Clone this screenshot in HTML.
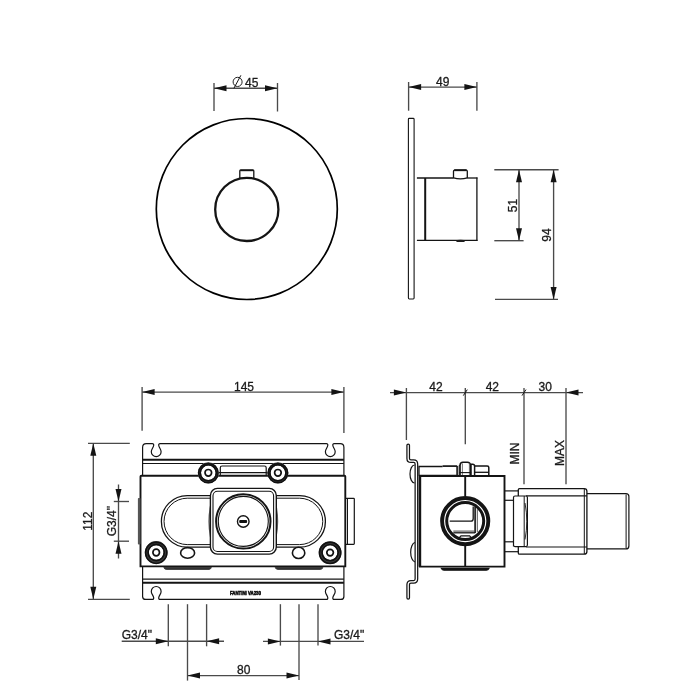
<!DOCTYPE html>
<html><head><meta charset="utf-8"><style>
html,body{margin:0;padding:0;background:#fff;width:700px;height:700px;overflow:hidden}
svg{display:block;will-change:transform}
text{font-family:"Liberation Sans",sans-serif;fill:#1a1a1a;stroke:#1a1a1a;stroke-width:0.3px}
</style></head><body>
<svg width="700" height="700" viewBox="0 0 700 700">
<rect width="700" height="700" fill="#fff"/>
<circle cx="246.8" cy="209.0" r="90.5" stroke="#000" stroke-width="1.7" fill="none"/>
<circle cx="246.8" cy="209.4" r="31.6" stroke="#141414" stroke-width="2.3" fill="none"/>
<path d="M239.8,178.3 V171 Q239.8,170.2 240.6,170.2 H253 Q253.8,170.2 253.8,171 V178.3" stroke="#141414" stroke-width="1.3" fill="none" />
<line x1="240.3" y1="170.3" x2="253.3" y2="170.3" stroke="#141414" stroke-width="1.8" stroke-linecap="butt"/>
<line x1="214.0" y1="83" x2="214.0" y2="111" stroke="#4a4a4a" stroke-width="1.35" stroke-linecap="butt"/>
<line x1="277.5" y1="83" x2="277.5" y2="111.5" stroke="#4a4a4a" stroke-width="1.35" stroke-linecap="butt"/>
<line x1="214.0" y1="88.2" x2="277.5" y2="88.2" stroke="#4a4a4a" stroke-width="1.35" stroke-linecap="butt"/>
<polygon points="214.0,88.2 226.5,85.2 226.5,91.2" fill="#141414"/>
<polygon points="277.5,88.2 265.0,85.2 265.0,91.2" fill="#141414"/>
<ellipse cx="237.6" cy="81.9" rx="4.5" ry="4.6" stroke="#222" stroke-width="1" fill="none"/>
<line x1="233.9" y1="88.3" x2="240.9" y2="75.3" stroke="#141414" stroke-width="1" stroke-linecap="butt"/>
<text x="245" y="86.6" font-size="12" text-anchor="start" >45</text>
<path d="M408.4,119.3 Q408.4,118.4 409.3,118.4 H413.2 Q414.1,118.4 414.1,119.3 V298.1 Q414.1,299 413.2,299 H409.3 Q408.4,299 408.4,298.1 Z" stroke="#141414" stroke-width="1.1" fill="none" />
<line x1="408.6" y1="82" x2="408.6" y2="110.7" stroke="#4a4a4a" stroke-width="1.35" stroke-linecap="butt"/>
<line x1="476.9" y1="82" x2="476.9" y2="110.7" stroke="#4a4a4a" stroke-width="1.35" stroke-linecap="butt"/>
<line x1="408.6" y1="87.1" x2="476.9" y2="87.1" stroke="#4a4a4a" stroke-width="1.35" stroke-linecap="butt"/>
<polygon points="408.6,87.1 421.1,84.1 421.1,90.1" fill="#141414"/>
<polygon points="476.9,87.1 464.4,84.1 464.4,90.1" fill="#141414"/>
<text x="436" y="85.7" font-size="12" text-anchor="start" >49</text>
<line x1="416.9" y1="178" x2="453.5" y2="178" stroke="#141414" stroke-width="1.3" stroke-linecap="butt"/>
<line x1="467.3" y1="178" x2="477.5" y2="178" stroke="#141414" stroke-width="1.3" stroke-linecap="butt"/>
<line x1="416.9" y1="240.4" x2="477.5" y2="240.4" stroke="#141414" stroke-width="1.3" stroke-linecap="butt"/>
<line x1="425.2" y1="178" x2="425.2" y2="240.4" stroke="#141414" stroke-width="2.0" stroke-linecap="butt"/>
<line x1="476.9" y1="177.4" x2="476.9" y2="241" stroke="#141414" stroke-width="1.3" stroke-linecap="butt"/>
<path d="M453.5,178.2 V171.3 Q453.5,170.1 454.7,170.1 H466.1 Q467.3,170.1 467.3,171.3 V178.2" stroke="#141414" stroke-width="1.3" fill="none" />
<line x1="454.2" y1="170.2" x2="466.6" y2="170.2" stroke="#141414" stroke-width="1.9" stroke-linecap="butt"/>
<path d="M453.5,177.8 Q460.4,179.9 467.3,177.8" stroke="#141414" stroke-width="1.3" fill="none" />
<ellipse cx="460.5" cy="240.9" rx="4.5" ry="1.2" fill="#1e1e1e"/>
<line x1="494.3" y1="169.7" x2="558.6" y2="169.7" stroke="#4a4a4a" stroke-width="1.35" stroke-linecap="butt"/>
<line x1="494.3" y1="240.7" x2="523.6" y2="240.7" stroke="#4a4a4a" stroke-width="1.35" stroke-linecap="butt"/>
<line x1="495" y1="299.4" x2="558" y2="299.4" stroke="#4a4a4a" stroke-width="1.35" stroke-linecap="butt"/>
<line x1="519" y1="169.7" x2="519" y2="240.7" stroke="#4a4a4a" stroke-width="1.35" stroke-linecap="butt"/>
<polygon points="519,169.7 516.0,182.2 522.0,182.2" fill="#141414"/>
<polygon points="519,240.7 516.0,228.2 522.0,228.2" fill="#141414"/>
<line x1="553.6" y1="169.7" x2="553.6" y2="299.4" stroke="#4a4a4a" stroke-width="1.35" stroke-linecap="butt"/>
<polygon points="553.6,169.7 550.6,182.2 556.6,182.2" fill="#141414"/>
<polygon points="553.6,299.4 550.6,286.9 556.6,286.9" fill="#141414"/>
<text x="516.9" y="205.6" font-size="12" text-anchor="middle" transform="rotate(-90 516.9 205.6)" >51</text>
<text x="551.4" y="235.0" font-size="12" text-anchor="middle" transform="rotate(-90 551.4 235.0)" >94</text>
<line x1="142.1" y1="387.1" x2="142.1" y2="430.7" stroke="#4a4a4a" stroke-width="1.35" stroke-linecap="butt"/>
<line x1="343.9" y1="387.1" x2="343.9" y2="432.9" stroke="#4a4a4a" stroke-width="1.35" stroke-linecap="butt"/>
<line x1="142.1" y1="392.1" x2="343.9" y2="392.1" stroke="#4a4a4a" stroke-width="1.35" stroke-linecap="butt"/>
<polygon points="142.1,392.1 154.6,389.1 154.6,395.1" fill="#141414"/>
<polygon points="343.9,392.1 331.4,389.1 331.4,395.1" fill="#141414"/>
<text x="234" y="390.5" font-size="12" text-anchor="start" >145</text>
<line x1="88" y1="443.3" x2="129.8" y2="443.3" stroke="#4a4a4a" stroke-width="1.35" stroke-linecap="butt"/>
<line x1="88" y1="599.3" x2="129.8" y2="599.3" stroke="#4a4a4a" stroke-width="1.35" stroke-linecap="butt"/>
<line x1="93.3" y1="443.3" x2="93.3" y2="599.3" stroke="#4a4a4a" stroke-width="1.35" stroke-linecap="butt"/>
<polygon points="93.3,443.3 90.3,455.8 96.3,455.8" fill="#141414"/>
<polygon points="93.3,599.3 90.3,586.8 96.3,586.8" fill="#141414"/>
<text x="91.8" y="521.2" font-size="12" text-anchor="middle" transform="rotate(-90 91.8 521.2)" >112</text>
<line x1="113.8" y1="501.5" x2="129" y2="501.5" stroke="#4a4a4a" stroke-width="1.35" stroke-linecap="butt"/>
<line x1="113.8" y1="541.2" x2="129" y2="541.2" stroke="#4a4a4a" stroke-width="1.35" stroke-linecap="butt"/>
<line x1="118.5" y1="484.5" x2="118.5" y2="558.5" stroke="#4a4a4a" stroke-width="1.35" stroke-linecap="butt"/>
<polygon points="118.5,501.5 115.5,489.0 121.5,489.0" fill="#141414"/>
<polygon points="118.5,541.2 115.5,553.7 121.5,553.7" fill="#141414"/>
<text x="116.5" y="521.2" font-size="12" text-anchor="middle" transform="rotate(-90 116.5 521.2)" >G3/4"</text>
<path d="M142.6,475.7 V447.4 Q142.6,443.7 146.29999999999998,443.7 L152.39999999999998,443.7 Q153.79999999999998,443.7 153.7,445.3 C153.39999999999998,447.7 151.29999999999998,449.2 151.29999999999998,451.7 A4.9,4.9 0 0 0 161.1,451.7 C161.1,449.2 159.0,447.7 158.7,445.3 Q158.6,443.7 160.0,443.7 L326.5,443.7 Q327.90000000000003,443.7 327.8,445.3 C327.5,447.7 325.40000000000003,449.2 325.40000000000003,451.7 A4.9,4.9 0 0 0 335.2,451.7 C335.2,449.2 333.1,447.7 332.8,445.3 Q332.7,443.7 334.1,443.7 L340.2,443.7 Q343.9,443.7 343.9,447.4 V475.7" stroke="#141414" stroke-width="1.2" fill="none" />
<line x1="142.6" y1="459.7" x2="343.9" y2="459.7" stroke="#141414" stroke-width="1.9" stroke-linecap="butt"/>
<line x1="142.6" y1="463.5" x2="343.9" y2="463.5" stroke="#141414" stroke-width="1.2" stroke-linecap="butt"/>
<path d="M343.9,566.4 V596.4 Q343.9,599.4 340.9,599.4 L334.1,599.4 Q332.7,599.4 332.8,597.8 C333.1,595.4 335.2,593.9 335.2,591.4 A4.9,4.9 0 0 0 325.40000000000003,591.4 C325.40000000000003,593.9 327.5,595.4 327.8,597.8 Q327.90000000000003,599.4 326.5,599.4 L160.0,599.4 Q158.6,599.4 158.7,597.8 C159.0,595.4 161.1,593.9 161.1,591.4 A4.9,4.9 0 0 0 151.29999999999998,591.4 C151.29999999999998,593.9 153.39999999999998,595.4 153.7,597.8 Q153.79999999999998,599.4 152.39999999999998,599.4 L145.6,599.4 Q142.6,599.4 142.6,596.4 V566.4" stroke="#141414" stroke-width="1.2" fill="none" />
<line x1="142.6" y1="579.1" x2="343.9" y2="579.1" stroke="#141414" stroke-width="1.1" stroke-linecap="butt"/>
<line x1="142.6" y1="582.8" x2="343.9" y2="582.8" stroke="#141414" stroke-width="1.9" stroke-linecap="butt"/>
<path d="M163.8,567.6 Q164.6,569.4 166.2,569.4 H209 Q210.6,569.4 211.4,567.6 Z" stroke="#333" stroke-width="0.9" fill="#333" />
<path d="M275.2,567.6 Q276,569.4 277.6,569.4 H320.5 Q322.1,569.4 322.9,567.6 Z" stroke="#333" stroke-width="0.9" fill="#333" />
<path d="M140.5,566.4 V476.5 Q140.5,475.7 141.3,475.7 H344.5 Q345.3,475.7 345.3,476.5 V566.4 Z" stroke="#141414" stroke-width="1.9" fill="none" />
<rect x="137.9" y="498" width="2.6" height="46.5" rx="0.8" fill="#555"/>
<path d="M345.3,498.3 H353.6 Q354.3,498.3 354.3,499 V543.6 Q354.3,544.3 353.6,544.3 H345.3" stroke="#141414" stroke-width="1.2" fill="none" />
<line x1="347.5" y1="498.3" x2="347.5" y2="544.3" stroke="#141414" stroke-width="1.0" stroke-linecap="butt"/>
<path d="M220.3,475.4 V467.8 Q220.3,466 222.1,466 H264.4 Q266.2,466 266.2,467.8 V475.4" stroke="#141414" stroke-width="1.2" fill="none" />
<line x1="218" y1="472.6" x2="268.4" y2="472.6" stroke="#141414" stroke-width="1.3" stroke-linecap="butt"/>
<circle cx="208.3" cy="472.8" r="10.5" fill="#fff"/>
<circle cx="208.3" cy="472.8" r="8.9" stroke="#3c3c3c" stroke-width="3.2" fill="none"/>
<circle cx="208.3" cy="472.8" r="8.1" stroke="#111" stroke-width="1.6" fill="none"/>
<circle cx="208.3" cy="473.1" r="9.7" stroke="#111" stroke-width="1.5" fill="none"/>
<circle cx="208.3" cy="472.8" r="3.3" stroke="#111" stroke-width="1.7" fill="none"/>
<circle cx="277.9" cy="472.8" r="10.5" fill="#fff"/>
<circle cx="277.9" cy="472.8" r="8.9" stroke="#3c3c3c" stroke-width="3.2" fill="none"/>
<circle cx="277.9" cy="472.8" r="8.1" stroke="#111" stroke-width="1.6" fill="none"/>
<circle cx="277.9" cy="473.1" r="9.7" stroke="#111" stroke-width="1.5" fill="none"/>
<circle cx="277.9" cy="472.8" r="3.3" stroke="#111" stroke-width="1.7" fill="none"/>
<circle cx="156.2" cy="552.5" r="11.4" fill="#fff"/>
<circle cx="156.2" cy="552.5" r="9.35" stroke="#3c3c3c" stroke-width="4.1000000000000005" fill="none"/>
<circle cx="156.2" cy="552.5" r="8.1" stroke="#111" stroke-width="1.6" fill="none"/>
<circle cx="156.2" cy="552.8" r="10.6" stroke="#111" stroke-width="1.5" fill="none"/>
<circle cx="156.2" cy="552.5" r="3.3" stroke="#111" stroke-width="1.7" fill="none"/>
<circle cx="330.1" cy="552.6" r="11.4" fill="#fff"/>
<circle cx="330.1" cy="552.6" r="9.35" stroke="#3c3c3c" stroke-width="4.1000000000000005" fill="none"/>
<circle cx="330.1" cy="552.6" r="8.1" stroke="#111" stroke-width="1.6" fill="none"/>
<circle cx="330.1" cy="552.9" r="10.6" stroke="#111" stroke-width="1.5" fill="none"/>
<circle cx="330.1" cy="552.6" r="3.3" stroke="#111" stroke-width="1.7" fill="none"/>
<path d="M210.3,495.59999999999997 H187.2 A25.8,25.8 0 0 0 187.2,547.1999999999999 H210.3" stroke="#141414" stroke-width="1.3" fill="none" />
<path d="M210.3,498.2 H187.2 A23.2,23.2 0 0 0 187.2,544.5999999999999 H210.3" stroke="#141414" stroke-width="1.0" fill="none" />
<path d="M275.7,495.59999999999997 H299.6 A25.8,25.8 0 0 1 299.6,547.1999999999999 H275.7" stroke="#141414" stroke-width="1.3" fill="none" />
<path d="M275.7,498.2 H299.6 A23.2,23.2 0 0 1 299.6,544.5999999999999 H275.7" stroke="#141414" stroke-width="1.0" fill="none" />
<path d="M210.6,506 Q207.6,521.4 210.6,537" stroke="#555" stroke-width="1.4" fill="none" />
<path d="M276.0,506 Q279.0,521.4 276.0,537" stroke="#555" stroke-width="1.4" fill="none" />
<rect x="210.4" y="488.4" width="65.9" height="65.7" rx="7" fill="#fff" stroke="#141414" stroke-width="1.4"/>
<rect x="213.0" y="491.3" width="60.6" height="60.2" rx="4.5" fill="none" stroke="#141414" stroke-width="1.1"/>
<circle cx="243.3" cy="521.4" r="27.2" stroke="#141414" stroke-width="2.0" fill="none"/>
<circle cx="243.3" cy="521.4" r="25.0" stroke="#141414" stroke-width="1.1" fill="none"/>
<circle cx="243.25" cy="521.5" r="5.8" stroke="#141414" stroke-width="1.4" fill="none"/>
<rect x="239.2" y="519.9" width="7.9" height="3.0" rx="1" fill="#111"/>
<ellipse cx="187.6" cy="552.9" rx="7.0" ry="5.3" stroke="#141414" stroke-width="1.6" fill="#fff"/>
<ellipse cx="298.6" cy="552.9" rx="6.2" ry="5.6" stroke="#141414" stroke-width="1.6" fill="#fff"/>
<text x="245.4" y="594.6" font-size="4.8" text-anchor="middle" font-weight="bold" style="stroke:#111;stroke-width:0.55px" textLength="31" lengthAdjust="spacingAndGlyphs">FANTINI VA230</text>
<line x1="168.3" y1="604.2" x2="168.3" y2="646.3" stroke="#4a4a4a" stroke-width="1.35" stroke-linecap="butt"/>
<line x1="187.5" y1="604.2" x2="187.5" y2="680.6" stroke="#4a4a4a" stroke-width="1.35" stroke-linecap="butt"/>
<line x1="206.6" y1="604.2" x2="206.6" y2="646.3" stroke="#4a4a4a" stroke-width="1.35" stroke-linecap="butt"/>
<line x1="280.4" y1="604.2" x2="280.4" y2="645.6" stroke="#4a4a4a" stroke-width="1.35" stroke-linecap="butt"/>
<line x1="299" y1="604.2" x2="299" y2="680" stroke="#4a4a4a" stroke-width="1.35" stroke-linecap="butt"/>
<line x1="318" y1="604.2" x2="318" y2="645.6" stroke="#4a4a4a" stroke-width="1.35" stroke-linecap="butt"/>
<line x1="121.7" y1="641.2" x2="224" y2="641.2" stroke="#4a4a4a" stroke-width="1.35" stroke-linecap="butt"/>
<polygon points="168.3,641.2 155.8,638.2 155.8,644.2" fill="#141414"/>
<polygon points="206.6,641.2 219.1,638.2 219.1,644.2" fill="#141414"/>
<text x="121.7" y="639.1" font-size="12" text-anchor="start" >G3/4"</text>
<line x1="263" y1="641.4" x2="364" y2="641.4" stroke="#4a4a4a" stroke-width="1.35" stroke-linecap="butt"/>
<polygon points="280.4,641.4 267.9,638.4 267.9,644.4" fill="#141414"/>
<polygon points="318,641.4 330.5,638.4 330.5,644.4" fill="#141414"/>
<text x="334" y="639.4" font-size="12" text-anchor="start" >G3/4"</text>
<line x1="187.5" y1="675.6" x2="299" y2="675.6" stroke="#4a4a4a" stroke-width="1.35" stroke-linecap="butt"/>
<polygon points="187.5,675.6 200.0,672.6 200.0,678.6" fill="#141414"/>
<polygon points="299,675.6 286.5,672.6 286.5,678.6" fill="#141414"/>
<text x="237" y="674" font-size="12" text-anchor="start" >80</text>
<line x1="390" y1="392.6" x2="583" y2="392.6" stroke="#4a4a4a" stroke-width="1.35" stroke-linecap="butt"/>
<polygon points="406.4,392.6 393.9,389.6 393.9,395.6" fill="#141414"/>
<polygon points="566,392.6 578.5,389.6 578.5,395.6" fill="#141414"/>
<line x1="406.4" y1="388" x2="406.4" y2="440" stroke="#4a4a4a" stroke-width="1.35" stroke-linecap="butt"/>
<line x1="465.3" y1="388" x2="465.3" y2="444.3" stroke="#4a4a4a" stroke-width="1.35" stroke-linecap="butt"/>
<line x1="524" y1="388" x2="524" y2="484.3" stroke="#4a4a4a" stroke-width="1.35" stroke-linecap="butt"/>
<line x1="566" y1="388" x2="566" y2="484.3" stroke="#4a4a4a" stroke-width="1.35" stroke-linecap="butt"/>
<line x1="463.3" y1="395.6" x2="467.3" y2="389.6" stroke="#141414" stroke-width="1.0" stroke-linecap="butt"/>
<line x1="522" y1="395.6" x2="526" y2="389.6" stroke="#141414" stroke-width="1.0" stroke-linecap="butt"/>
<text x="429.3" y="391" font-size="12" text-anchor="start" >42</text>
<text x="485.7" y="391" font-size="12" text-anchor="start" >42</text>
<text x="538.6" y="391" font-size="12" text-anchor="start" >30</text>
<text x="518.9" y="453.6" font-size="12" text-anchor="middle" transform="rotate(-90 518.9 453.6)" >MIN</text>
<text x="564.3" y="452.9" font-size="12" text-anchor="middle" transform="rotate(-90 564.3 452.9)" >MAX</text>
<path d="M408.2,445.3 V458.5 Q408.2,461.2 411,461.2 H413.6 Q416.4,461.2 416.4,464 V579 Q416.4,581.8 413.6,581.8 H411 Q408.2,581.8 408.2,584.6 V597.8" stroke="#141414" stroke-width="3.8" fill="none" stroke-linecap="round" stroke-linejoin="round"/>
<path d="M408.2,445.3 V458.5 Q408.2,461.2 411,461.2 H413.6 Q416.4,461.2 416.4,464 V579 Q416.4,581.8 413.6,581.8 H411 Q408.2,581.8 408.2,584.6 V597.8" stroke="#fff" stroke-width="1.3" fill="none" stroke-linecap="round" stroke-linejoin="round"/>
<path d="M414.6,465 A4.6,9 0 0 0 414.6,483" stroke="#141414" stroke-width="1.2" fill="none" />
<path d="M415,542.5 A4.8,9.8 0 0 0 415,562" stroke="#141414" stroke-width="1.2" fill="none" />
<path d="M419,476 V466.5 H442.6" stroke="#141414" stroke-width="1.3" fill="none" />
<path d="M442.6,466.1 H457.2" stroke="#141414" stroke-width="1.7" fill="none" />
<line x1="457.1" y1="466" x2="457.1" y2="475.8" stroke="#141414" stroke-width="1.6" stroke-linecap="butt"/>
<line x1="419" y1="475.5" x2="457.2" y2="475.5" stroke="#141414" stroke-width="1.3" stroke-linecap="butt"/>
<path d="M459.2,475.8 V465.4" stroke="#141414" stroke-width="1.1" fill="none" />
<path d="M459.2,465.4 H460.1" stroke="#141414" stroke-width="1.1" fill="none" />
<path d="M460.1,475.8 V465.2 Q460.1,462.3 463,462.3 H467.4 Q470.3,462.3 470.3,465.2 V475.8" stroke="#141414" stroke-width="1.5" fill="none" />
<line x1="462.4" y1="463.5" x2="462.4" y2="475.5" stroke="#666" stroke-width="0.9" stroke-linecap="butt"/>
<line x1="469.4" y1="463.5" x2="469.4" y2="475.5" stroke="#666" stroke-width="0.9" stroke-linecap="butt"/>
<line x1="459.2" y1="472.6" x2="471.2" y2="472.6" stroke="#141414" stroke-width="1.1" stroke-linecap="butt"/>
<line x1="471.2" y1="464.5" x2="471.2" y2="475.8" stroke="#141414" stroke-width="1.1" stroke-linecap="butt"/>
<path d="M470.3,464.2 H472.6 Q474.6,464.2 474.6,466.2 V475.8" stroke="#141414" stroke-width="1.5" fill="none" />
<path d="M474.6,465.9 H487.2 Q488.8,465.9 488.8,467.5 V475.8" stroke="#141414" stroke-width="1.5" fill="none" />
<line x1="474.6" y1="472.3" x2="488.8" y2="472.3" stroke="#141414" stroke-width="1.3" stroke-linecap="butt"/>
<path d="M419.9,566.6 V476 H504.5 V566.6 Z" stroke="#141414" stroke-width="1.9" fill="none" />
<line x1="419.9" y1="476" x2="419.9" y2="566.6" stroke="#141414" stroke-width="2.6" stroke-linecap="butt"/>
<line x1="465.2" y1="476" x2="465.2" y2="496" stroke="#141414" stroke-width="1.9" stroke-linecap="butt"/>
<line x1="465.2" y1="546" x2="465.2" y2="566.6" stroke="#141414" stroke-width="1.9" stroke-linecap="butt"/>
<path d="M441.4,568.4 Q442.2,570.2 444,570.2 H486.3 Q488.1,570.2 488.9,568.4 Z" stroke="#141414" stroke-width="1.2" fill="#141414" />
<circle cx="465.2" cy="521.1" r="23.1" stroke="#141414" stroke-width="3.9" fill="#fff"/>
<circle cx="465.2" cy="521.1" r="18.5" stroke="#141414" stroke-width="3.0" fill="none"/>
<path d="M449.7,521.2 H471 Q473.2,521.2 473.2,518.5 V506.5" stroke="#141414" stroke-width="1.3" fill="none" />
<line x1="475.1" y1="506.5" x2="475.1" y2="533" stroke="#141414" stroke-width="1.6" stroke-linecap="butt"/>
<line x1="477.3" y1="509" x2="477.3" y2="532" stroke="#555" stroke-width="1.0" stroke-linecap="butt"/>
<line x1="453.3" y1="531.1" x2="475.1" y2="531.1" stroke="#444" stroke-width="1.0" stroke-linecap="butt"/>
<line x1="453.3" y1="532.8" x2="475.1" y2="532.8" stroke="#141414" stroke-width="1.3" stroke-linecap="butt"/>
<path d="M458.8,538.2 L461,535.9 H469.6 L471.8,538.2" stroke="#141414" stroke-width="1.2" fill="none" />
<line x1="504.5" y1="490.9" x2="518.3" y2="490.9" stroke="#141414" stroke-width="1.2" stroke-linecap="butt"/>
<line x1="504.5" y1="551.7" x2="518.3" y2="551.7" stroke="#141414" stroke-width="1.2" stroke-linecap="butt"/>
<line x1="504.5" y1="500.3" x2="513.5" y2="500.3" stroke="#141414" stroke-width="1.2" stroke-linecap="butt"/>
<line x1="504.5" y1="541.8" x2="513.5" y2="541.8" stroke="#141414" stroke-width="1.2" stroke-linecap="butt"/>
<path d="M518.3,496 V489.8 Q518.3,488.6 519.5,488.6 H584.2 Q586.9,488.6 586.9,491.3 V551.5 Q586.9,554.2 584.2,554.2 H519.5 Q518.3,554.2 518.3,553 V546.6" stroke="#141414" stroke-width="1.3" fill="none" />
<line x1="526" y1="495.9" x2="586.9" y2="495.9" stroke="#141414" stroke-width="1.1" stroke-linecap="butt"/>
<line x1="526" y1="547.0" x2="586.9" y2="547.0" stroke="#141414" stroke-width="1.1" stroke-linecap="butt"/>
<line x1="584.3" y1="489" x2="584.3" y2="554" stroke="#141414" stroke-width="1.0" stroke-linecap="butt"/>
<path d="M513.5,546.6 V497.5 Q513.5,496 515,496 H525.9 Q527.4,496 527.4,497.5 V545.1 Q527.4,546.6 525.9,546.6 H515 Q513.5,546.6 513.5,545.1 Z" stroke="#141414" stroke-width="1.2" fill="#fff" />
<line x1="524.2" y1="496" x2="524.2" y2="546.6" stroke="#141414" stroke-width="1.0" stroke-linecap="butt"/>
<path d="M525,503 Q528.6,521.3 525,539.5" stroke="#141414" stroke-width="0.9" fill="none" />
<path d="M586.9,493.6 H625.9 Q628.9,493.6 628.9,496.6 V545.9 Q628.9,548.9 625.9,548.9 H586.9" stroke="#141414" stroke-width="1.2" fill="none" />
<line x1="626.1" y1="494.5" x2="626.1" y2="548" stroke="#141414" stroke-width="1.0" stroke-linecap="butt"/>
</svg></body></html>
